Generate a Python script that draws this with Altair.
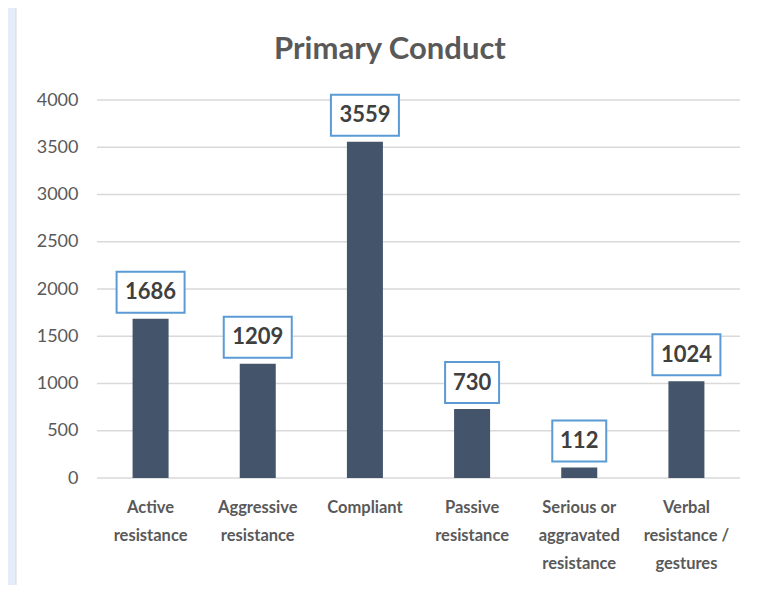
import altair as alt
import pandas as pd

title_text = ["Primary Conduct"]
categories = [
    "Active|resistance",
    "Aggressive|resistance",
    "Compliant",
    "Passive|resistance",
    "Serious or|aggravated|resistance",
    "Verbal|resistance /|gestures",
]
values = [1686, 1209, 3559, 730, 112, 1024]
y_ticks = [0, 500, 1000, 1500, 2000, 2500, 3000, 3500, 4000]

df = pd.DataFrame({"category": categories, "value": values})
df_ticks = pd.DataFrame({"tick": y_ticks})
df_title = pd.DataFrame({"title": title_text})

BOX4 = "M-1,-0.603L1,-0.603L1,0.603L-1,0.603Z"
BOX3 = "M-0.794,-0.603L0.794,-0.603L0.794,0.603L-0.794,0.603Z"

FONT = "Lato"
GREY = "#595959"

x_enc = alt.X(
    "category:N",
    sort=None,
    scale=alt.Scale(paddingInner=0.664, paddingOuter=0.332),
    axis=alt.Axis(
        title=None,
        labelExpr="split(datum.value, '|')",
        labelAngle=0,
        labelFont=FONT,
        labelFontSize=16.5,
        labelFontWeight="bold",
        labelColor=GREY,
        labelLineHeight=28,
        labelPadding=21,
        ticks=False,
        domain=False,
        grid=False,
        zindex=1,
    ),
)
y_scale = alt.Scale(domain=[0, 4000], nice=False)
y_axis = alt.Axis(
    title=None,
    values=y_ticks,
    format="d",
    labelFont=FONT,
    labelFontSize=18,
    labelColor=GREY,
    labelPadding=19,
    ticks=False,
    domain=False,
    grid=False,
    zindex=1,
)
y_enc = alt.Y("value:Q", scale=y_scale, axis=y_axis)

frame = alt.Chart(df_title).mark_rect(fill="white", stroke="#d9d9d9", strokeWidth=1).encode(
    x=alt.value(-81), x2=alt.value(680), y=alt.value(-94), y2=alt.value(491)
)

title = alt.Chart(df_title).mark_text(
    font=FONT, fontSize=31, fontWeight="bold", color=GREY,
    align="center", baseline="alphabetic",
).encode(text="title:N", x=alt.value(293), y=alt.value(-41))

grid = alt.Chart(df_ticks).mark_rule(color="#d9d9d9", strokeWidth=1.5).encode(
    y=alt.Y("tick:Q", scale=y_scale, axis=y_axis),
    x=alt.value(0), x2=alt.value(643),
)

base = alt.Chart(df)

bars = base.mark_bar(color="#44546A").encode(x=x_enc, y=y_enc)

boxes = base.transform_calculate(
    box=f"length(toString(datum.value)) > 3 ? '{BOX4}' : '{BOX3}'"
).mark_point(
    filled=True, fill="white", stroke="#5B9BD5", strokeWidth=2, opacity=1,
    size=4624, yOffset=-26.5,
).encode(x=x_enc, y=y_enc, shape=alt.Shape("box:N", scale=None))

labels = base.mark_text(
    yOffset=-26.5, font=FONT, fontSize=22, fontWeight="bold", color="#404040",
    baseline="middle",
).encode(x=x_enc, y=y_enc, text="value:Q")

chart = alt.layer(frame, title, grid, bars, boxes, labels).properties(
    width=643,
    height=378,
    autosize=alt.AutoSizeParams(type="none"),
    padding={"left": 89, "top": 92, "right": 10, "bottom": 107},
    background="#e4edf8",
).configure_view(stroke=None)

chart.save("out.html", embed_options={"renderer": "svg", "actions": False})
